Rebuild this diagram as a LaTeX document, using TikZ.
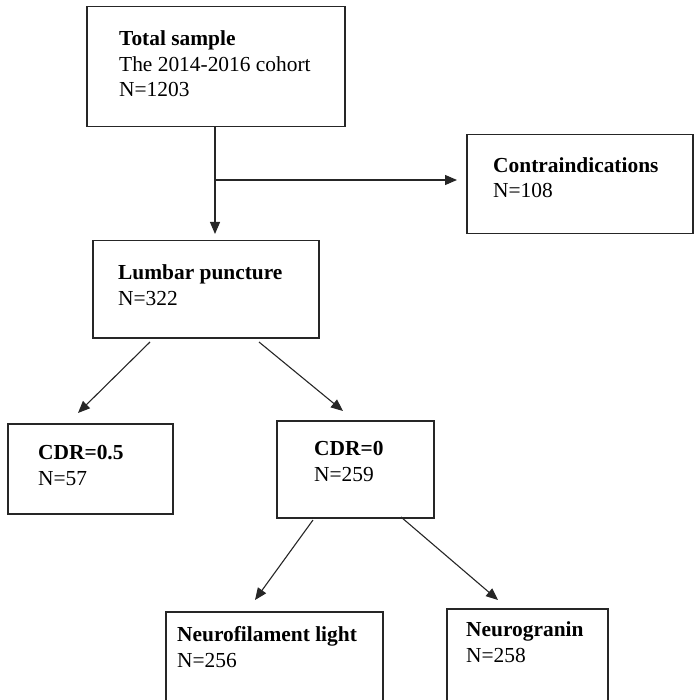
\documentclass[tikz,border=0pt]{standalone}
\usepackage{fontspec}
\setmainfont{Liberation Serif}
\usetikzlibrary{arrows.meta}
\begin{document}
\begin{tikzpicture}[x=1pt,y=-1pt,
  boxshape/.style={draw=black!85,line width=1.5pt,rectangle,inner sep=0pt},
  txt/.style={anchor=base west,inner sep=0pt,align=left,font=\fontsize{21.4}{25.5}\selectfont},
  conn/.style={draw=black!85,line width=1.1pt,-{Triangle[length=12pt,width=10pt]}},
  plain/.style={draw=black!85,line width=1.1pt}]
\useasboundingbox (0,0) rectangle (693,700);
\newcommand{\mybox}[5]{\node[boxshape,minimum width={#4-#2},minimum height={#5-#3},anchor=north west] (#1) at (#2,#3) {};}
\mybox{total}{86}{6}{344}{126}
\mybox{contra}{466}{134}{692}{233}
\mybox{lumbar}{92}{240}{318}{337}
\mybox{cdrh}{7}{423}{172}{513}
\mybox{cdrz}{276}{420}{433}{517}
\mybox{nfl}{165}{611}{382}{702}
\mybox{ng}{446}{608}{607}{702}
\node[txt] (t1) at (119,97) {\textbf{Total sample}\\The 2014-2016 cohort\\N=1203};
\node[txt] (t2) at (493,198) {\textbf{Contraindications}\\N=108};
\node[txt] (t3) at (118,305) {\textbf{Lumbar puncture}\\N=322};
\node[txt] (t4) at (38,485) {\textbf{CDR=0.5}\\N=57};
\node[txt] (t5) at (314,481) {\textbf{CDR=0}\\N=259};
\node[txt] (t6) at (177,667) {\textbf{Neurofilament light}\\N=256};
\node[txt] (t7) at (466,662) {\textbf{Neurogranin}\\N=258};
\coordinate (j) at (215,180);
\coordinate (ct) at (457,180);
\coordinate (lt) at (215,234);
\coordinate (a1) at (150,342);
\coordinate (a1e) at (78,413);
\coordinate (a2) at (259,342);
\coordinate (a2e) at (343,411);
\coordinate (b1) at (313,520);
\coordinate (b1e) at (255,600);
\coordinate (b2) at (401,517);
\coordinate (b2e) at (498,600);
\draw[plain] (total.south -| j) -- (j);
\draw[conn] (j) -- (lt);
\draw[conn] (j) -- (ct);
\draw[conn] (a1) -- (a1e);
\draw[conn] (a2) -- (a2e);
\draw[conn] (b1) -- (b1e);
\draw[conn] (b2) -- (b2e);
\end{tikzpicture}
\end{document}
